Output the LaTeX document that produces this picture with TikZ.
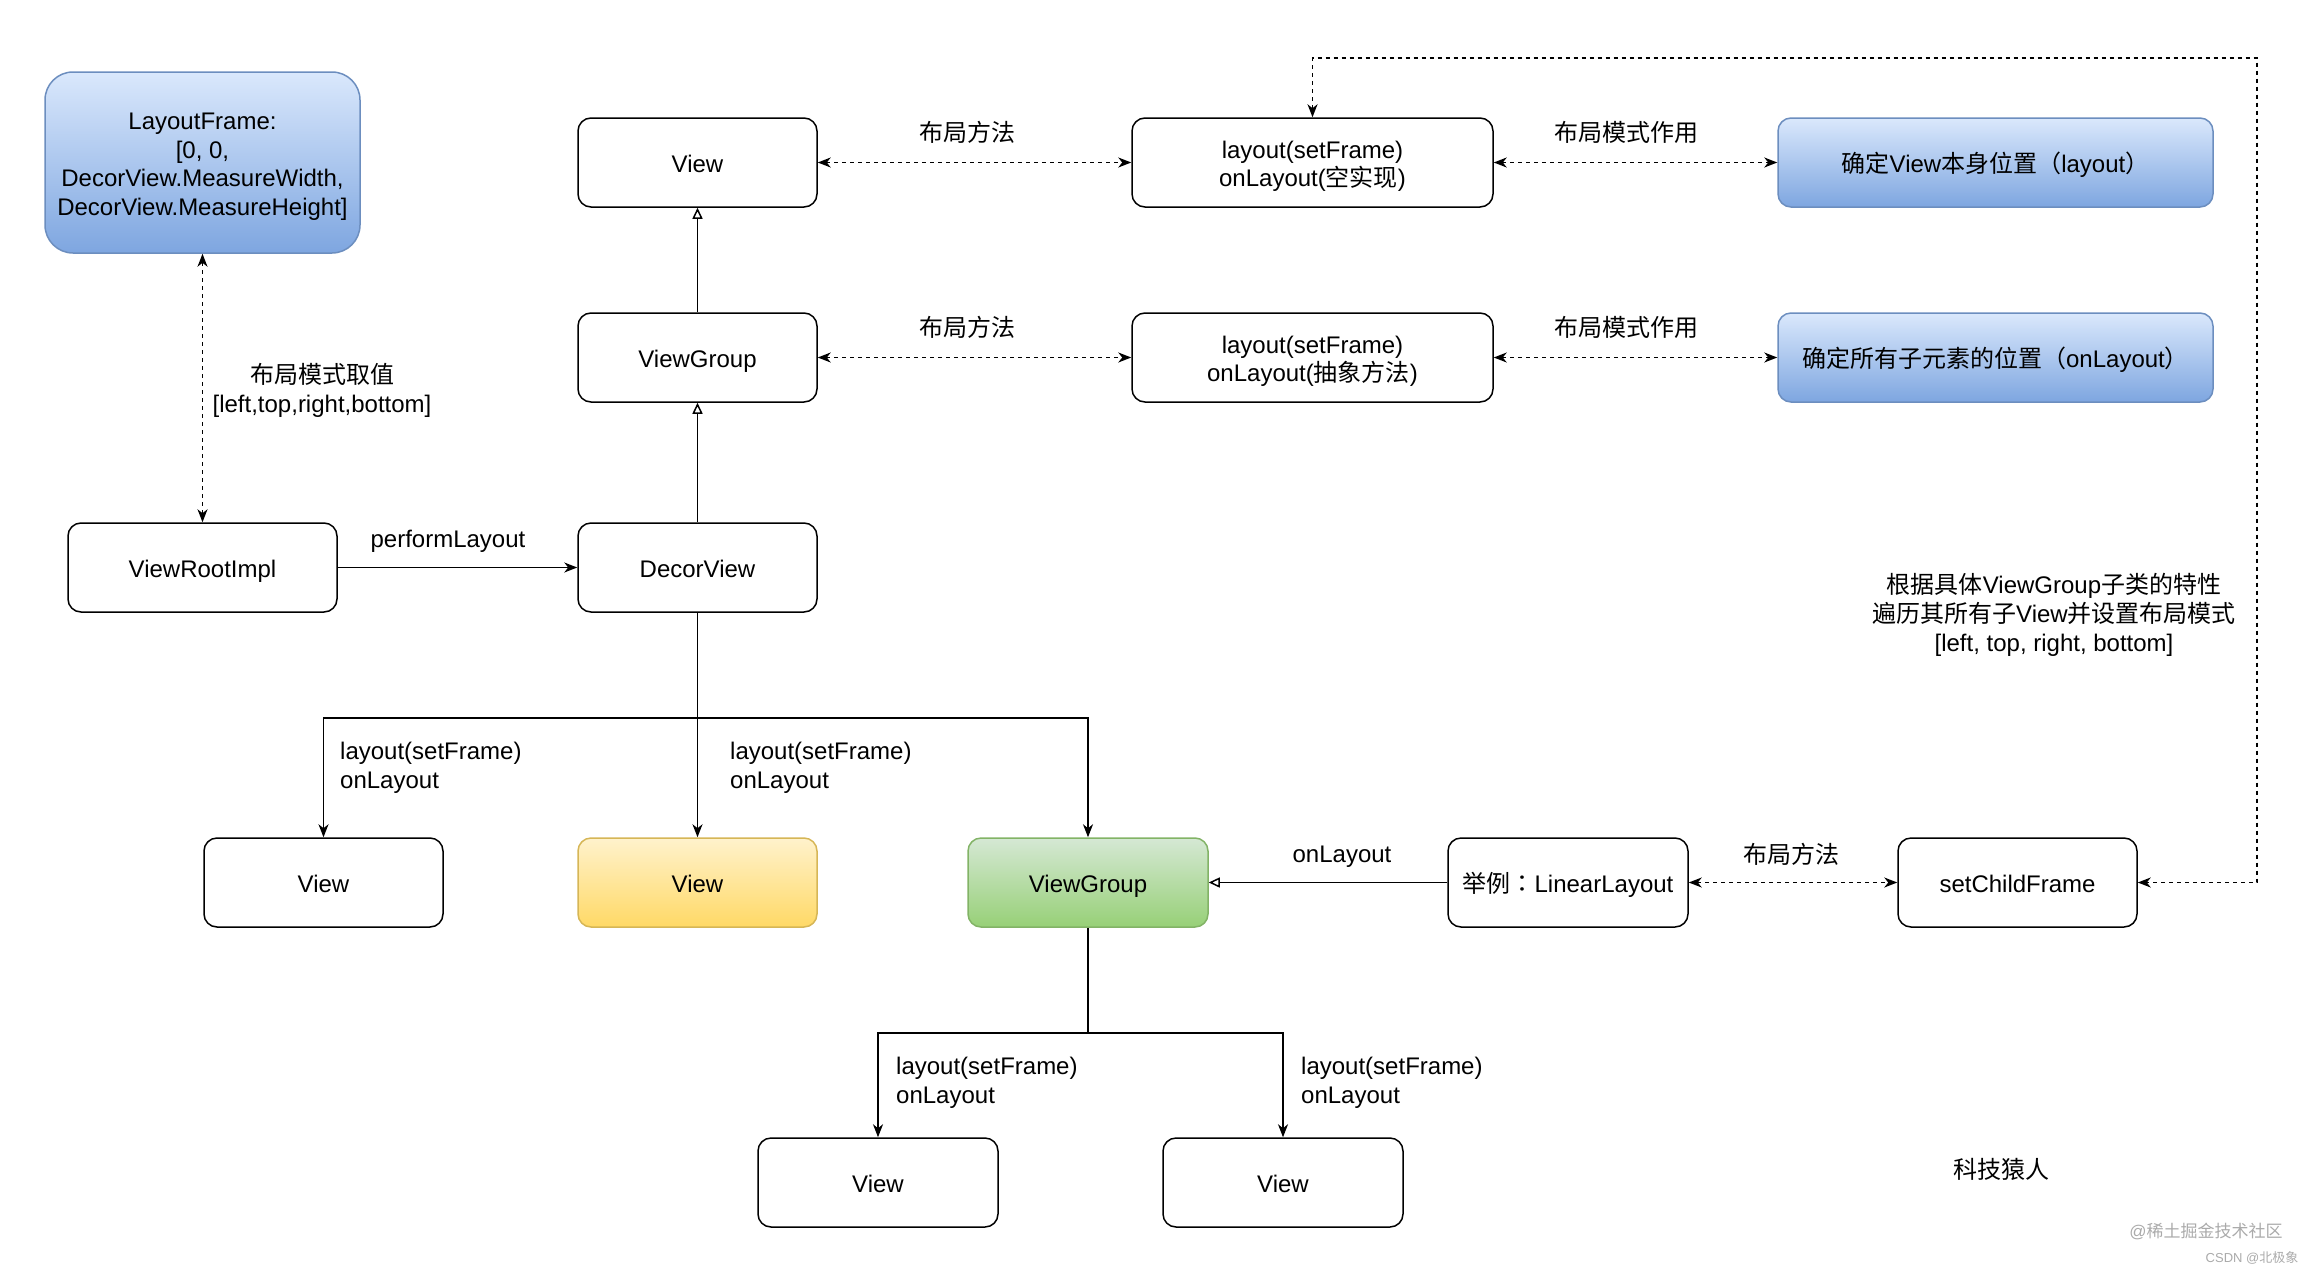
\documentclass[tikz,border=0pt]{standalone}
\usepackage{fontspec}
\setmainfont{Liberation Sans}
\newfontfamily\cjk{Noto Sans CJK SC}
\newfontfamily\cjktc{Noto Sans CJK TC}
\usetikzlibrary{arrows.meta}
\definecolor{blueTop}{HTML}{DAE8FC}
\definecolor{blueBot}{HTML}{7EA6E0}
\definecolor{blueBorder}{HTML}{6C8EBF}
\definecolor{yelTop}{HTML}{FFF2CC}
\definecolor{yelBot}{HTML}{FFD966}
\definecolor{yelBorder}{HTML}{D6B656}
\definecolor{grnTop}{HTML}{D5E8D4}
\definecolor{grnBot}{HTML}{97D077}
\definecolor{grnBorder}{HTML}{82B366}
\definecolor{wmGray}{HTML}{AAAAAA}
\newcommand{\tst}{\rule{0pt}{1.05em}}
\newcommand{\dst}{\rule[-0.21em]{0pt}{0.21em}}
\begin{document}
\begin{tikzpicture}[x=1pt,y=-1pt,
  font=\fontsize{24}{28.8}\selectfont,
  box/.style={draw, line width=1.5pt, rounded corners=13pt, align=center,
    inner sep=0pt, minimum height=89pt, fill=white},
  bluebox/.style={box, draw=blueBorder, top color=blueTop, bottom color=blueBot},
  yelbox/.style={box, draw=yelBorder, top color=yelTop, bottom color=yelBot},
  grnbox/.style={box, draw=grnBorder, top color=grnTop, bottom color=grnBot},
  arr/.style={line width=1.5pt, -{Stealth[length=13pt,width=10pt,inset=4pt]}},
  darr/.style={line width=1.5pt, dash pattern=on 4pt off 4pt,
    {Stealth[length=13pt,width=10pt,inset=4pt]}-{Stealth[length=13pt,width=10pt,inset=4pt]}},
  inh/.style={line width=1.5pt, -{Triangle[open,length=11pt,width=10pt]}},
  lbl/.style={inner sep=0pt, align=center},
  lbll/.style={inner sep=0pt, align=left, anchor=west}]
\useasboundingbox (0,0) rectangle (2318,1274);

% nodes
\node[bluebox, rounded corners=28pt, minimum width=315pt, minimum height=181pt] (lf) at (202.5,162.5)
  {\tst LayoutFrame:\\{}[0, 0,\\DecorView.MeasureWidth,\\DecorView.MeasureHeight]\dst};
\node[box, minimum width=239pt] (vtop) at (697.5,162.5) {\tst View\dst};
\node[box, minimum width=361pt] (lay1) at (1312.5,162.5) {\tst layout(setFrame)\\onLayout({\cjk 空实现})\dst};
\node[bluebox, minimum width=435pt] (blue1) at (1995.5,162.5) {\tst{\cjk 确定}View{\cjk 本身位置（}layout{\cjk ）}\dst};
\node[box, minimum width=239pt] (vgtop) at (697.5,357.5) {\tst ViewGroup\dst};
\node[box, minimum width=361pt] (lay2) at (1312.5,357.5) {\tst layout(setFrame)\\onLayout({\cjk 抽象方法})\dst};
\node[bluebox, minimum width=435pt] (blue2) at (1995.5,357.5) {\tst{\cjk 确定所有子元素的位置（}onLayout{\cjk ）}\dst};
\node[box, minimum width=269pt] (vri) at (202.5,567.5) {\tst ViewRootImpl\dst};
\node[box, minimum width=239pt] (dv) at (697.5,567.5) {\tst DecorView\dst};
\node[box, minimum width=239pt] (v1) at (323.5,882.5) {\tst View\dst};
\node[yelbox, minimum width=239pt] (vy) at (697.5,882.5) {\tst View\dst};
\node[grnbox, minimum width=240pt] (vg) at (1088,882.5) {\tst ViewGroup\dst};
\node[box, minimum width=240pt] (ll) at (1568,882.5) {\tst{\cjk 举例}{\cjktc ：}LinearLayout\dst};
\node[box, minimum width=239pt] (scf) at (2017.5,882.5) {\tst setChildFrame\dst};
\node[box, minimum width=240pt] (ba) at (878,1182.5) {\tst View\dst};
\node[box, minimum width=240pt] (bb) at (1283,1182.5) {\tst View\dst};

% connectors
\draw[darr] (lf.south) -- (vri.north);
\draw[arr] (vri.east) -- (dv.west);
\draw[inh] (dv.north) -- (vgtop.south);
\draw[inh] (vgtop.north) -- (vtop.south);
\draw[darr] (vtop.east) -- (lay1.west);
\draw[darr] (lay1.east) -- (blue1.west);
\draw[darr] (vgtop.east) -- (lay2.west);
\draw[darr] (lay2.east) -- (blue2.west);

\coordinate (br1) at (697.5,718);
\draw[arr] (dv.south) -- (br1) -| (v1.north);
\draw[arr] (dv.south) -- (vy.north);
\draw[arr] (br1) -| (vg.north);

\coordinate (br2) at (1088,1033);
\draw[arr] (vg.south) -- (br2) -| (ba.north);
\draw[arr] (br2) -| (bb.north);

\draw[inh] (ll.west) -- (vg.east);
\draw[darr] (ll.east) -- (scf.west);

\coordinate (lt) at (1312.5,58);
\coordinate (rt) at (2257,58);
\draw[darr] (lay1.north) -- (lt) -- (rt) |- (scf.east);

% labels
\node[lbl] (l1) at (322,390) {{\cjk 布局模式取值}\\{}[left,top,right,bottom]};
\node[lbl] (l2) at (448,541) {performLayout};
\node[lbl] (l3) at (967,132) {\cjk 布局方法};
\node[lbl] (l4) at (1626,132) {\cjk 布局模式作用};
\node[lbl] (l5) at (967,327) {\cjk 布局方法};
\node[lbl] (l6) at (1626,327) {\cjk 布局模式作用};
\node[lbll] (l7) at (340,767.5) {layout(setFrame)\\onLayout};
\node[lbll] (l8) at (730,767.5) {layout(setFrame)\\onLayout};
\node[lbl] (l9) at (1342,857) {onLayout};
\node[lbl] (l10) at (1791,854.5) {\cjk 布局方法};
\node[lbll] (l11) at (896,1082.5) {layout(setFrame)\\onLayout};
\node[lbll] (l12) at (1301,1082.5) {layout(setFrame)\\onLayout};
\node[lbl] (l13) at (2054,615) {{\cjk 根据具体}ViewGroup{\cjk 子类的特性}\\{\cjk 遍历其所有子}View{\cjk 并设置布局模式}\\{}[left, top, right, bottom]};
\node[lbl] (l14) at (2001,1169.5) {\cjk 科技猿人};
\node[lbl, text=wmGray, font=\fontsize{17}{20}\selectfont] (wm1) at (2206,1231) {@{\cjk 稀土掘金技术社区}};
\node[lbl, text=wmGray, font=\fontsize{13}{16}\selectfont] (wm2) at (2252,1258) {CSDN @{\cjk 北极象}};
\end{tikzpicture}
\end{document}
